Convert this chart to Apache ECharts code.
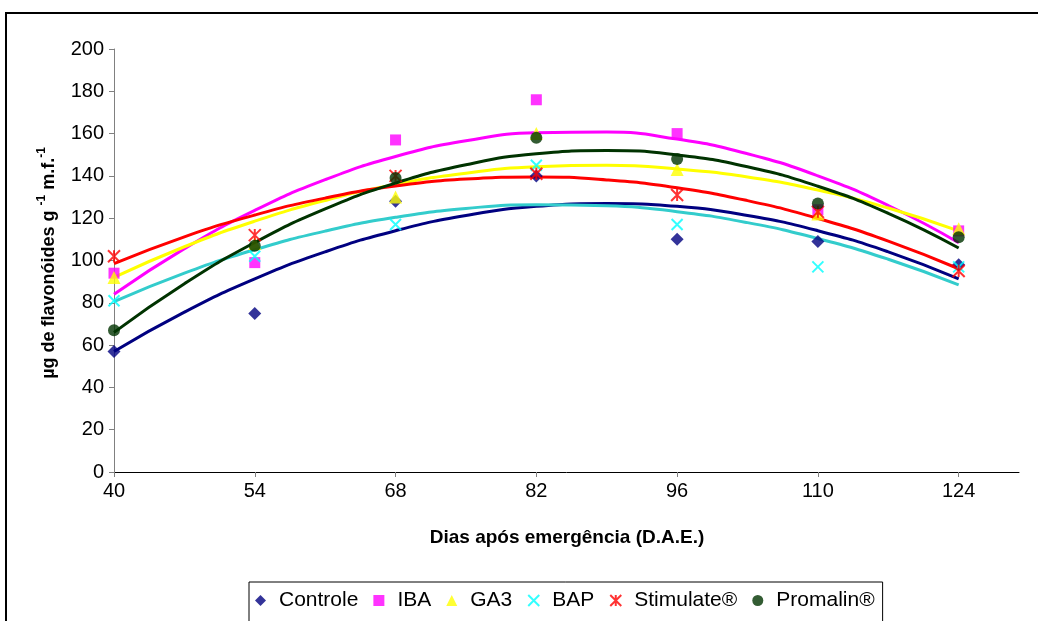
<!DOCTYPE html>
<html>
<head>
<meta charset="utf-8">
<script src="https://cdn.jsdelivr.net/npm/echarts@6/dist/echarts.min.js"></script>
<style>html,body{margin:0;padding:0;background:#fff}#c{width:1038px;height:621px}</style>
</head>
<body>
<div id="c"></div>
<script>
// Observed days (x)
const days = [40, 54, 68, 82, 96, 110, 124];
const xTickLabels = [40, 54, 68, 82, 96, 110, 124];
// Measured values (markers)
const controle  = [57, 75, 128, 140, 110, 109, 98];
const iba       = [94, 99, 157, 176, 160, 124, 114];
const ga3       = [92, 108, 130, 160, 143, 122, 115];
const bap       = [81, 102, 117, 145, 117, 97, 97];
const stimulate = [102, 112, 140, 141, 131, 123, 95];
const promalin  = [67, 107, 139, 158, 148, 127, 111];
// Trendline values
const trendDays = [40, 47, 54, 61, 68, 75, 82, 89, 96, 103, 110, 117, 124];
const controleTrend  = [57.0, 75.6, 91.3, 104.1, 114.1, 121.3, 125.6, 126.9, 125.6, 121.3, 114.1, 104.1, 91.3];
const ibaTrend       = [84.0, 105.6, 123.7, 138.2, 149.2, 156.6, 160.4, 160.7, 157.4, 150.5, 140.0, 126.0, 108.4];
const ga3Trend       = [92.0, 106.5, 118.6, 128.4, 136.0, 141.3, 144.3, 145.0, 143.3, 139.5, 133.3, 124.8, 114.0];
const bapTrend       = [80.5, 94.0, 105.1, 113.9, 120.4, 124.6, 126.4, 125.9, 123.1, 117.9, 110.4, 100.6, 88.5];
const stimulateTrend = [98.5, 111.2, 121.5, 129.5, 135.2, 138.5, 139.5, 138.1, 134.4, 128.3, 119.9, 109.2, 96.1];
const promalinTrend  = [66.0, 89.0, 108.5, 124.4, 136.6, 145.3, 150.5, 152.0, 149.9, 144.3, 135.1, 122.3, 105.9];

const FONT = "'Liberation Sans', Arial, sans-serif";
const pair = (xs, ys) => xs.map((x, i) => [x, ys[i]]);

const defs = [
  {name: 'Controle', vals: controle, trend: controleTrend, symbol: 'diamond', size: 13, color: '#000080', line: '#000080'},
  {name: 'IBA', vals: iba, trend: ibaTrend, symbol: 'rect', size: 11, color: '#FF00FF', line: '#FF00FF'},
  {name: 'GA3', vals: ga3, trend: ga3Trend, symbol: 'triangle', size: 13, color: '#FFFF00', line: '#FFFF00'},
  {name: 'BAP', vals: bap, trend: bapTrend, symbol: 'path://M0,0L10,10M10,0L0,10', size: 11, color: '#00FFFF', line: '#33CCCC', stroke: true},
  {name: 'Stimulate®', vals: stimulate, trend: stimulateTrend, symbol: 'path://M0,0L10,10M10,0L0,10M5,0L5,10', size: 12, color: '#FF0000', line: '#FF0000', stroke: true},
  {name: 'Promalin®', vals: promalin, trend: promalinTrend, symbol: 'circle', size: 12, color: '#003300', line: '#003300'}
];

const series = [];
defs.forEach(d => {
  series.push({
    name: d.name + ' (tendência)', type: 'line', data: pair(trendDays, d.trend),
    smooth: true, showSymbol: false, silent: true, z: 1,
    lineStyle: {color: d.line, width: 3}, itemStyle: {color: d.line}
  });
});
defs.forEach((d, i) => {
  series.push({
    name: d.name, type: 'scatter', data: pair(days, d.vals),
    symbol: d.symbol, symbolSize: d.size, z: 3 + i, symbolKeepAspect: true,
    itemStyle: d.stroke ? {color: d.color, borderColor: d.color, borderWidth: 2} : {color: d.color}
  });
});

const chart = echarts.init(document.getElementById('c'), null, {renderer: 'canvas'});
chart.setOption({
  animation: false,
  backgroundColor: '#fff',
  grid: {left: 114, right: 19, top: 49, bottom: 149, containLabel: false},
  xAxis: {
    type: 'value', min: 40, max: 130, interval: 14,
    axisLine: {lineStyle: {color: '#000', width: 1}},
    axisTick: {show: true, length: 5, lineStyle: {color: '#808080'}, customValues: xTickLabels},
    axisLabel: {color: '#000', fontSize: 20, fontFamily: FONT, margin: 9, customValues: xTickLabels},
    splitLine: {show: false}
  },
  yAxis: {
    type: 'value', min: 0, max: 200, interval: 20,
    axisLine: {show: true, lineStyle: {color: '#808080', width: 1}},
    axisTick: {show: true, length: 5, lineStyle: {color: '#808080'}},
    axisLabel: {color: '#000', fontSize: 20, fontFamily: FONT, margin: 10},
    splitLine: {show: false}
  },
  legend: {
    data: defs.map(d => d.name),
    left: 249, top: 582,
    borderColor: '#000', borderWidth: 1,
    padding: [8, 8, 20, 6],
    itemWidth: 11, itemHeight: 11, itemGap: 15,
    symbolKeepAspect: true,
    textStyle: {fontSize: 21, fontFamily: FONT, color: '#000', padding: [0, 0, 0, 8]}
  },
  graphic: [
    {type: 'rect', shape: {x: 6, y: 13, width: 1100, height: 700}, style: {fill: 'none', stroke: '#000', lineWidth: 2}, z: 100},
    {type: 'text', x: 567, y: 538, style: {text: 'Dias após emergência (D.A.E.)', font: 'bold 19px ' + FONT, fill: '#000', textAlign: 'center', textVerticalAlign: 'middle'}},
    {type: 'text', x: 47, y: 263, rotation: Math.PI / 2,
      style: {
        text: '{m|µg de flavonóides g }{s|-1}{m| m.f.}{s|-1}',
        textAlign: 'center', textVerticalAlign: 'middle',
        rich: {
          m: {font: 'bold 18px ' + FONT, fill: '#000', lineHeight: 23, verticalAlign: 'bottom'},
          s: {font: 'bold 12px ' + FONT, fill: '#000', lineHeight: 23, verticalAlign: 'top'}
        }
      }}
  ],
  series: series
});
</script>
</body>
</html>
